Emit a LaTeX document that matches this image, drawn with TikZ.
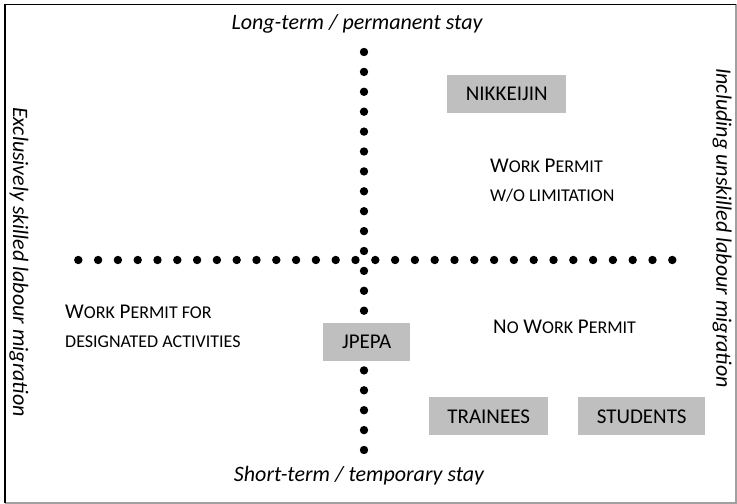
\documentclass[tikz,border=0pt]{standalone}
\usepackage{fontspec}
\setmainfont{Carlito}
\newcommand\fsc[1]{{\fontsize{18bp}{20bp}\selectfont #1}}
\definecolor{boxgray}{RGB}{191,191,191}
\definecolor{framegray}{RGB}{160,160,160}
\tikzset{
  txt/.style={font=\fontsize{21bp}{29bp}\selectfont, inner sep=0pt},
  ital/.style={txt, font=\fontsize{22bp}{29bp}\selectfont\itshape},
  gbox/.style={txt, fill=boxgray, anchor=north west, minimum height=38bp, inner xsep=11bp, align=left, text depth=0pt},
  dotmark/.style={fill=black}
}
\begin{document}
\begin{tikzpicture}[x=1bp,y=-1bp]
\useasboundingbox (0,0) rectangle (737,504);
% frame
\draw[line width=1.6bp, framegray] (736,4.5) -- (736,503) -- (5,503);
\draw[line width=1.6bp, black] (5,503) -- (5,4.5) -- (736,4.5);
% dotted axes
\foreach \i in {0,...,30} \fill[dotmark] (78.3+19.8*\i,260) circle (4.2);
\foreach \j in {0,...,20} \fill[dotmark] (364,52+19.9*\j) circle (4.2);
% axis labels
\node[ital] (top) at (357,24) {Long-term / permanent stay};
\node[ital] (bottom) at (359,476) {Short-term / temporary stay};
\node[ital, rotate=-90] (left) at (19,262) {Exclusively skilled labour migration};
\node[ital, rotate=-90] (right) at (722,228) {Including unskilled labour migration};
% quadrant labels
\node[txt, anchor=west, align=left] (wp1) at (490,181) {W\fsc{ORK} P\fsc{ERMIT}\\ \fsc{W/O LIMITATION}};
\node[txt, anchor=west, align=left] (wp2) at (65,326) {W\fsc{ORK} P\fsc{ERMIT FOR}\\ \fsc{DESIGNATED ACTIVITIES}};
\node[txt, anchor=west] (nowp) at (493,327) {N\fsc{O} W\fsc{ORK} P\fsc{ERMIT}};
% grey boxes
\node[gbox, minimum width=119bp] (nik) at (447,75) {NIKKEIJIN};
\node[gbox, minimum width=87bp] (jpepa) at (323,323) {JPEPA};
\node[gbox, minimum width=119bp] (trainees) at (429,397) {TRAINEES};
\node[gbox, minimum width=127bp] (students) at (578,397) {STUDENTS};
\end{tikzpicture}
\end{document}
